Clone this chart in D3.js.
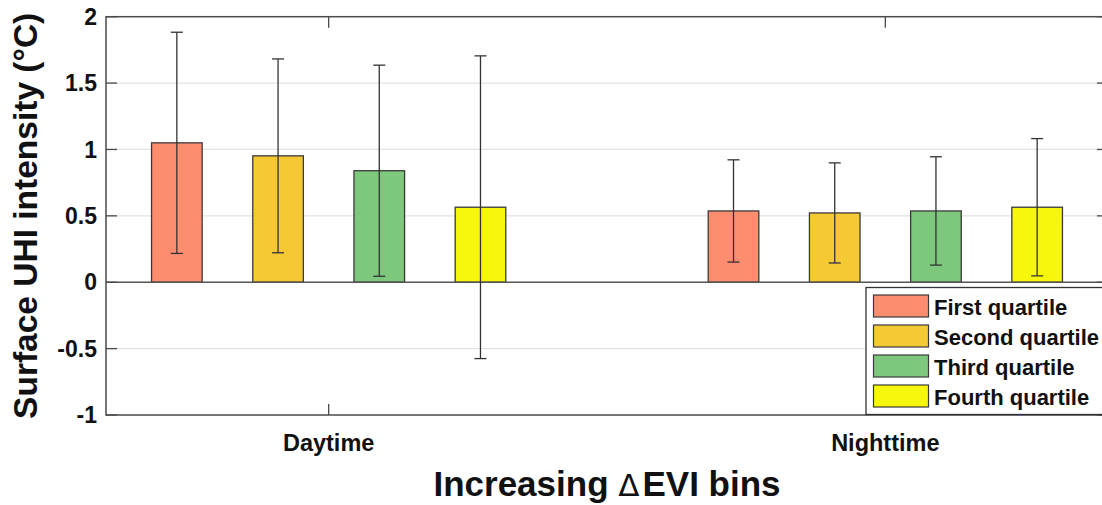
<!DOCTYPE html>
<html>
<head>
<meta charset="utf-8">
<script src="https://cdn.jsdelivr.net/npm/d3@7"></script>
<style>
  html, body { margin: 0; padding: 0; background: #fff; }
  svg { display: block; font-family: "Liberation Sans", Arial, sans-serif; }
</style>
</head>
<body>
<svg id="chart" width="1102" height="505"></svg>
<script>
// Periods along the x axis
const periods = ["Daytime", "Nighttime"];
// Quartile series
const quartiles = ["First quartile", "Second quartile", "Third quartile", "Fourth quartile"];
const quartileColors = ["#FC8D6F", "#F4C934", "#7EC87E", "#F7F70D"];
// Mean surface UHI intensity (°C) per quartile, [Daytime, Nighttime]
const firstMean  = [1.05, 0.537];
const secondMean = [0.952, 0.522];
const thirdMean  = [0.84, 0.537];
const fourthMean = [0.565, 0.565];
// Standard deviation (error bar half-length) per quartile, [Daytime, Nighttime]
const firstSd  = [0.833, 0.385];
const secondSd = [0.73, 0.377];
const thirdSd  = [0.795, 0.408];
const fourthSd = [1.14, 0.517];
// Y axis ticks
const yTicks = [-1, -0.5, 0, 0.5, 1, 1.5, 2];

const means = [firstMean, secondMean, thirdMean, fourthMean];
const sds = [firstSd, secondSd, thirdSd, fourthSd];

const svg = d3.select("#chart");
const plotL = 106, plotR = 1108, plotT = 16.7, plotB = 415;

const x = d3.scaleLinear().domain([0.6, 2.4]).range([plotL, plotR]);
const y = d3.scaleLinear().domain([-1, 2]).range([plotB, plotT]);

// grouped bar geometry (in x-data units)
const nSeries = quartiles.length;
const groupWidth = Math.min(0.8, nSeries / (nSeries + 1.5));
const slot = groupWidth / nSeries;
const barW = slot * 0.5;

const rows = [];
means.forEach((arr, s) => arr.forEach((v, g) => {
  rows.push({ s, g, v, sd: sds[s][g], xc: (g + 1) - groupWidth / 2 + slot * (s + 0.5) });
}));

// grid lines
svg.append("g").selectAll("line")
  .data(yTicks.filter(t => t !== 0 && t !== -1 && t !== 2))
  .join("line")
  .attr("x1", plotL).attr("x2", plotR)
  .attr("y1", d => y(d)).attr("y2", d => y(d))
  .attr("stroke", "#e3e3e3").attr("stroke-width", 1.2);

// bars
svg.append("g").selectAll("rect")
  .data(rows)
  .join("rect")
  .attr("x", d => x(d.xc - barW / 2))
  .attr("width", d => x(d.xc + barW / 2) - x(d.xc - barW / 2))
  .attr("y", d => y(Math.max(0, d.v)))
  .attr("height", d => Math.abs(y(d.v) - y(0)))
  .attr("fill", d => quartileColors[d.s])
  .attr("stroke", "#3a3a3a").attr("stroke-width", 1.3);

// baseline
svg.append("line")
  .attr("x1", plotL).attr("x2", plotR)
  .attr("y1", y(0)).attr("y2", y(0))
  .attr("stroke", "#555").attr("stroke-width", 1.3);

// error bars
const eb = svg.append("g").attr("stroke", "#333").attr("stroke-width", 1.3);
rows.forEach(d => {
  const cx = x(d.xc);
  const y1 = y(d.v + d.sd), y0 = y(d.v - d.sd);
  eb.append("line").attr("x1", cx).attr("x2", cx).attr("y1", y1).attr("y2", y0);
  eb.append("line").attr("x1", cx - 6).attr("x2", cx + 6).attr("y1", y1).attr("y2", y1);
  eb.append("line").attr("x1", cx - 6).attr("x2", cx + 6).attr("y1", y0).attr("y2", y0);
});

// axes box
const axisColor = "#4a4a4a";
svg.append("rect")
  .attr("x", plotL).attr("y", plotT)
  .attr("width", plotR - plotL).attr("height", plotB - plotT)
  .attr("fill", "none").attr("stroke", axisColor).attr("stroke-width", 1.5);

// y ticks (left and right)
const tickLen = 11;
yTicks.forEach(t => {
  svg.append("line").attr("x1", plotL).attr("x2", plotL + tickLen)
    .attr("y1", y(t)).attr("y2", y(t)).attr("stroke", axisColor).attr("stroke-width", 1.3);
  svg.append("line").attr("x1", plotR - tickLen).attr("x2", plotR)
    .attr("y1", y(t)).attr("y2", y(t)).attr("stroke", axisColor).attr("stroke-width", 1.3);
});
svg.append("g").selectAll("text")
  .data(yTicks)
  .join("text")
  .attr("x", 97).attr("y", d => y(d))
  .attr("dy", "0.35em")
  .attr("text-anchor", "end")
  .attr("font-size", 23).attr("font-weight", "bold").attr("fill", "#111")
  .text(d => String(d));

// x ticks (bottom and top)
periods.forEach((p, i) => {
  const cx = x(i + 1);
  svg.append("line").attr("x1", cx).attr("x2", cx).attr("y1", plotB).attr("y2", plotB - tickLen)
    .attr("stroke", axisColor).attr("stroke-width", 1.3);
  svg.append("line").attr("x1", cx).attr("x2", cx).attr("y1", plotT).attr("y2", plotT + tickLen)
    .attr("stroke", axisColor).attr("stroke-width", 1.3);
});
svg.append("g").selectAll("text")
  .data(periods)
  .join("text")
  .attr("x", (d, i) => x(i + 1)).attr("y", 450.5)
  .attr("text-anchor", "middle")
  .attr("font-size", 23.5).attr("font-weight", "bold").attr("fill", "#111")
  .text(d => d);

// axis titles
svg.append("text")
  .attr("transform", `translate(37,${(plotT + plotB) / 2}) rotate(-90)`)
  .attr("text-anchor", "middle")
  .attr("font-size", 33.5).attr("font-weight", "bold").attr("fill", "#111")
  .text("Surface UHI intensity (°C)");

const xt = svg.append("text")
  .attr("x", (plotL + plotR) / 2).attr("y", 496)
  .attr("text-anchor", "middle")
  .attr("font-size", 35).attr("font-weight", "bold").attr("fill", "#111");
xt.append("tspan").text("Increasing ");
xt.append("tspan").attr("font-weight", "normal").attr("font-family", "DejaVu Sans").attr("font-size", 31).text("Δ");
xt.append("tspan").attr("dx", 3).text("EVI bins");

// legend
const lg = svg.append("g");
lg.append("rect")
  .attr("x", 866).attr("y", 287.5).attr("width", 260).attr("height", 127)
  .attr("fill", "#fff").attr("stroke", "#333").attr("stroke-width", 1.3);
quartiles.forEach((q, i) => {
  const yy = 295 + i * 30;
  lg.append("rect").attr("x", 873.5).attr("y", yy).attr("width", 55).attr("height", 22)
    .attr("fill", quartileColors[i]).attr("stroke", "#3a3a3a").attr("stroke-width", 1.2);
  lg.append("text").attr("x", 934).attr("y", yy + 20)
    .attr("font-size", 22).attr("font-weight", "bold").attr("fill", "#111")
    .text(q);
});
</script>
</body>
</html>
